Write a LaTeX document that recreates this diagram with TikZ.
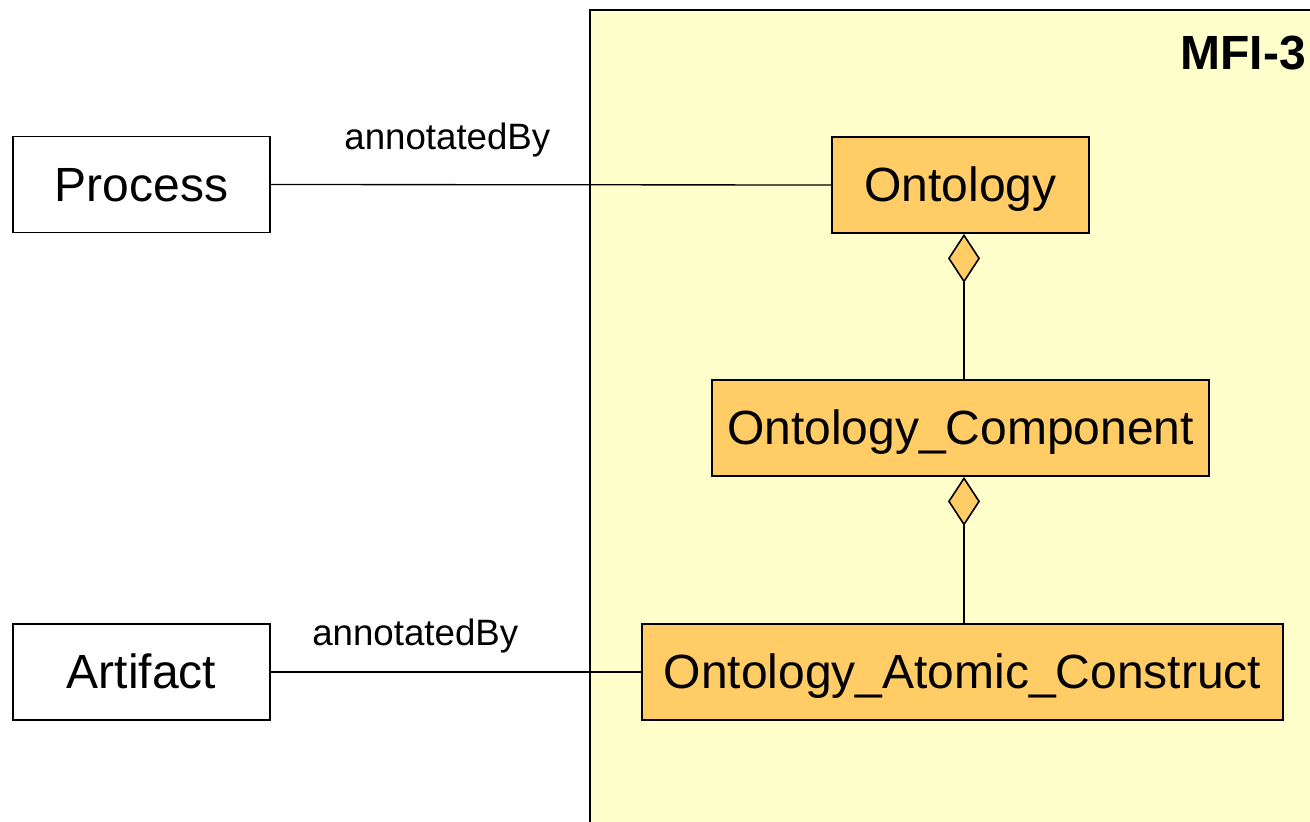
\documentclass[tikz,border=0pt]{standalone}
\usepackage{fontspec}
\setmainfont{Liberation Sans}
\usetikzlibrary{arrows.meta}
\definecolor{pkgfill}{RGB}{255,255,204}
\definecolor{clsfill}{RGB}{255,204,102}
\tikzset{
  cls/.style={draw=black, line width=1.3pt, minimum height=72pt, inner sep=0pt,
    text height=33pt, text depth=8pt,
    font=\fontsize{36}{42}\selectfont},
  plain/.style={cls, fill=white, minimum width=192.75pt},
  onto/.style={cls, fill=clsfill},
  assoc/.style={draw=black, line width=1pt},
  whole/.style={draw=black, line width=1pt,
    {Diamond[length=36.75pt, width=24pt, fill=clsfill, line width=1.2pt]}-},
  rolelabel/.style={font=\fontsize{27.5}{32}\selectfont, inner sep=0pt}
}
\begin{document}
\begin{tikzpicture}[x=0.75pt, y=-0.75pt]
  \useasboundingbox (0,0) rectangle (1310,821);
  \clip (0,0) rectangle (1310,821);
  % MFI-3 package area
  \fill[pkgfill] (590,10) rectangle (1330,840);
  \draw[line width=2.2pt] (590,840) -- (590,10) -- (1330,10);
  \node[anchor=base east, font=\bfseries\fontsize{36}{42}\selectfont, inner sep=0pt]
    (pkg) at (1306,69) {MFI-3};
  % classes
  \node[plain] (process) at (141.5,184.5) {Process};
  \node[plain] (artifact) at (141.5,672) {Artifact};
  \node[onto, minimum width=192.75pt] (ontology) at (960.5,185) {Ontology};
  \node[onto, minimum width=372.75pt] (component) at (960.5,428) {Ontology\_Component};
  \node[onto, minimum width=480.75pt] (atomic) at (962.5,672) {Ontology\_Atomic\_Construct};
  % associations
  \draw[assoc] (process.east) -- (ontology.west)
    node[rolelabel, pos=0.315, above=20pt] (lab1) {annotatedBy};
  \draw[assoc] (artifact.east) -- (atomic.west)
    node[rolelabel, pos=0.39, above=14pt] (lab2) {annotatedBy};
  % aggregations
  \draw[whole] (ontology.south -| 964,0) -- (component.north -| 964,0);
  \draw[whole] (component.south -| 964,0) -- (atomic.north -| 964,0);
\end{tikzpicture}
\end{document}
